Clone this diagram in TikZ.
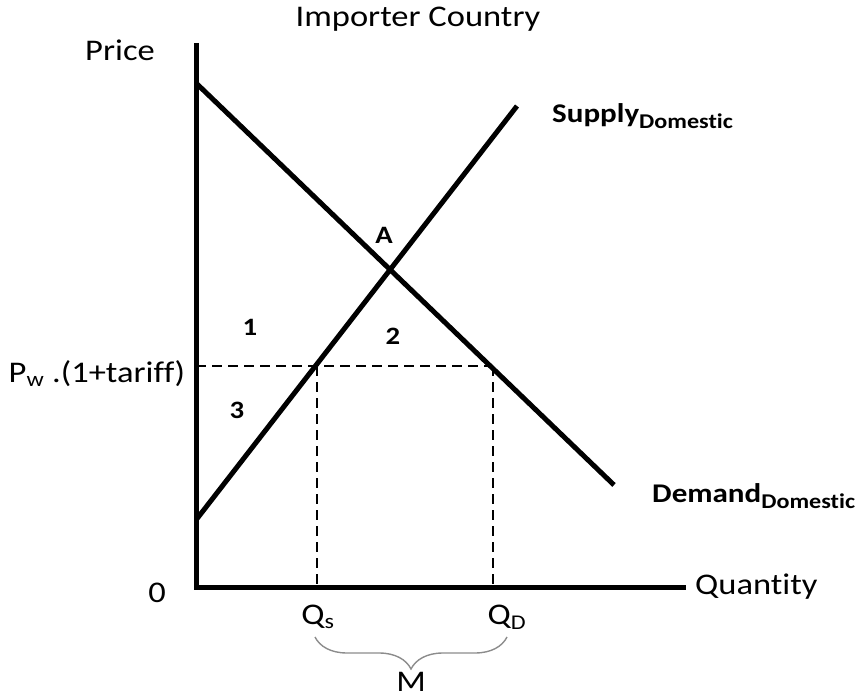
\documentclass[tikz,border=0pt]{standalone}
\usepackage{fontspec}
\setmainfont{Carlito}[FakeStretch=1.15, RawFeature={-liga;-clig;-calt}]
\usetikzlibrary{positioning,decorations.pathreplacing}
\tikzset{
  axis/.style={line width=5pt, line join=miter},
  curve/.style={line width=5pt},
  guide/.style={line width=1.4pt, dash pattern=on 10pt off 6pt},
  lbl/.style={inner sep=0pt, font=\fontsize{30}{30}\selectfont},
  tag/.style={inner sep=0pt, font=\bfseries\fontsize{27}{27}\selectfont},
  area/.style={inner sep=0pt, font=\bfseries\fontsize{25}{25}\selectfont},
  brc/.style={draw=black!45, line width=1.4pt, decorate,
    decoration={brace, amplitude=32pt}}
}
\newcommand{\dom}{\textsubscript{\fontsize{21}{21}\selectfont Domestic}}

\begin{document}
\begin{tikzpicture}[x=1pt, y=-1pt]
    \useasboundingbox (0,0) rectangle (859,700);

    % Axes.
    \coordinate (origin) at (196,587);
    \coordinate (ytop) at (196,43);
    \coordinate (xend) at (686,587);
    \draw[axis] (ytop) -- (origin) -- (xend);

    % Domestic demand and supply.
    \coordinate (dtop) at (196,83);
    \coordinate (dbot) at (614,485);
    \coordinate (sbot) at (196,520);
    \coordinate (stop) at (517,106);
    \draw[curve] (dtop) -- (dbot);
    \draw[curve] (sbot) -- (stop);

    % Price with the tariff, and the two quantities.
    \coordinate (pw) at (196,366);
    \coordinate (qsp) at (317,366);
    \coordinate (qdp) at (493,366);
    \coordinate (qs0) at (317,587);
    \coordinate (qd0) at (493,587);
    \draw[guide] (pw) -- (qdp);
    \draw[guide] (qsp) -- (qs0);
    \draw[guide] (qdp) -- (qd0);

    % Axis labels.
    \node[lbl] (title) at (418,19) {Importer Country};
    \node[lbl] (price) at (120,50) {Price};
    \node[lbl] (zero) at (157,593) {0};
    \node[lbl, anchor=west] (qty) at (695,587) {Quantity};
    \node[lbl] (pwl) at (97,374) {P\textsubscript{w} .(1+tariff)};
    \node[lbl] (qs) at (318,617) {Q\textsubscript{s}};
    \node[lbl] (qd) at (507,617) {Q\textsubscript{D}};

    % Curve labels.
    \node[tag, anchor=west] (supply) at (552,116) {Supply\dom};
    \node[tag, anchor=west] (demand) at (652,496) {Demand\dom};

    % Regions and equilibrium.
    \node[area] (eqa) at (384,235) {A};
    \node[area] (r1) at (250,327) {1};
    \node[area] (r2) at (393,336) {2};
    \node[area] (r3) at (237,410) {3};

    % Imports between the two quantities.
    \coordinate (bl) at (315,637);
    \coordinate (br) at (507,637);
    \draw[brc] (br) -- (bl);
    \node[lbl] (imp) at (411,682) {M};
  \end{tikzpicture}
\end{document}
